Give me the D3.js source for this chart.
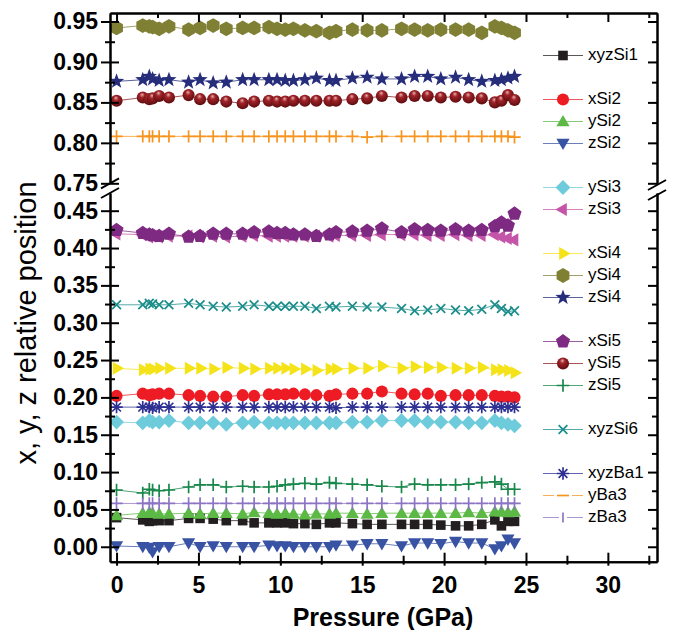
<!DOCTYPE html>
<meta charset="utf-8">
<head>
<script src="https://d3js.org/d3.v7.min.js"></script>
<style>
  body { margin: 0; background: #fff; }
  text { font-family: "Liberation Sans", Arial, sans-serif; }
</style>
</head>
<body>
<div id="chart"></div>
<script>

// pressure points (GPa)
var pressure = [0, 1.6, 2.0, 2.2, 2.6, 3.2, 4.4, 5.1, 5.9, 6.7, 7.7, 8.4, 9.3, 9.8, 10.3, 10.8, 11.5,
                12.2, 13.0, 13.4, 14.4, 15.3, 16.2, 17.4, 18.2, 19.0, 19.8, 20.7, 21.5, 22.3, 23.1, 23.5, 23.9, 24.3];

// relative positions
var ySi4   = [0.942, 0.945, 0.944, 0.943, 0.941, 0.944, 0.940, 0.942, 0.945, 0.941, 0.942, 0.942, 0.943, 0.941, 0.940, 0.941, 0.939,
              0.938, 0.936, 0.938, 0.940, 0.939, 0.939, 0.941, 0.940, 0.939, 0.940, 0.940, 0.940, 0.936, 0.944, 0.942, 0.939, 0.936];
var zSi4   = [0.876, 0.878, 0.882, 0.879, 0.877, 0.878, 0.875, 0.878, 0.874, 0.875, 0.878, 0.878, 0.878, 0.878, 0.877, 0.877, 0.878,
              0.880, 0.877, 0.877, 0.880, 0.881, 0.879, 0.879, 0.882, 0.882, 0.879, 0.881, 0.878, 0.876, 0.877, 0.878, 0.880, 0.882];
var ySi5   = [0.852, 0.856, 0.854, 0.855, 0.858, 0.856, 0.859, 0.854, 0.854, 0.851, 0.849, 0.851, 0.852, 0.851, 0.851, 0.852, 0.852,
              0.852, 0.852, 0.852, 0.854, 0.855, 0.858, 0.856, 0.858, 0.858, 0.856, 0.857, 0.856, 0.855, 0.850, 0.852, 0.859, 0.853];
var yBa3   = [0.808, 0.808, 0.808, 0.808, 0.808, 0.808, 0.808, 0.808, 0.808, 0.808, 0.808, 0.808, 0.808, 0.808, 0.808, 0.808, 0.808,
              0.808, 0.808, 0.808, 0.808, 0.807, 0.808, 0.808, 0.808, 0.808, 0.808, 0.808, 0.808, 0.808, 0.808, 0.808, 0.808, 0.807];
var xSi5   = [0.424, 0.420, 0.418, 0.417, 0.416, 0.419, 0.415, 0.416, 0.419, 0.419, 0.419, 0.421, 0.422, 0.420, 0.420, 0.418, 0.418,
              0.416, 0.418, 0.421, 0.422, 0.423, 0.426, 0.421, 0.425, 0.424, 0.423, 0.425, 0.423, 0.424, 0.429, 0.434, 0.430, 0.446];
var zSi3   = [0.419, 0.418, 0.415, 0.416, 0.415, 0.416, 0.416, 0.415, 0.416, 0.415, 0.416, 0.417, 0.416, 0.416, 0.416, 0.416, 0.416,
              0.416, 0.416, 0.417, 0.417, 0.417, 0.418, 0.418, 0.418, 0.417, 0.417, 0.418, 0.417, 0.417, 0.418, 0.415, 0.413, 0.411];
var xyzSi6 = [0.324, 0.324, 0.326, 0.325, 0.324, 0.324, 0.326, 0.324, 0.322, 0.321, 0.322, 0.324, 0.322, 0.322, 0.322, 0.322, 0.322,
              0.319, 0.322, 0.321, 0.322, 0.321, 0.321, 0.319, 0.316, 0.317, 0.319, 0.317, 0.316, 0.318, 0.324, 0.319, 0.315, 0.316];
var xSi4   = [0.239, 0.237, 0.238, 0.238, 0.239, 0.239, 0.239, 0.239, 0.238, 0.240, 0.239, 0.238, 0.239, 0.239, 0.239, 0.238, 0.238,
              0.236, 0.238, 0.238, 0.239, 0.239, 0.242, 0.239, 0.241, 0.240, 0.240, 0.239, 0.239, 0.240, 0.237, 0.237, 0.236, 0.233];
var xSi2   = [0.202, 0.205, 0.203, 0.204, 0.205, 0.205, 0.203, 0.202, 0.201, 0.201, 0.203, 0.202, 0.204, 0.204, 0.204, 0.205, 0.204,
              0.203, 0.202, 0.204, 0.205, 0.205, 0.208, 0.205, 0.204, 0.205, 0.202, 0.203, 0.203, 0.203, 0.202, 0.201, 0.201, 0.200];
var xyzBa1 = [0.187, 0.187, 0.187, 0.186, 0.187, 0.187, 0.187, 0.187, 0.187, 0.187, 0.187, 0.187, 0.187, 0.187, 0.187, 0.187, 0.187,
              0.187, 0.187, 0.186, 0.187, 0.187, 0.187, 0.187, 0.187, 0.187, 0.187, 0.187, 0.187, 0.187, 0.187, 0.187, 0.187, 0.187];
var ySi3   = [0.167, 0.166, 0.169, 0.167, 0.167, 0.169, 0.166, 0.166, 0.166, 0.164, 0.166, 0.167, 0.166, 0.166, 0.166, 0.166, 0.166,
              0.166, 0.166, 0.166, 0.167, 0.167, 0.169, 0.169, 0.169, 0.167, 0.167, 0.167, 0.166, 0.166, 0.169, 0.166, 0.164, 0.162];
var zSi5   = [0.076, 0.072, 0.077, 0.076, 0.075, 0.076, 0.080, 0.083, 0.083, 0.080, 0.081, 0.080, 0.080, 0.081, 0.083, 0.084, 0.085,
              0.084, 0.086, 0.085, 0.084, 0.083, 0.081, 0.080, 0.084, 0.083, 0.083, 0.083, 0.084, 0.086, 0.087, 0.084, 0.077, 0.077];
var zBa3   = [0.058, 0.058, 0.058, 0.058, 0.058, 0.058, 0.058, 0.058, 0.058, 0.058, 0.058, 0.058, 0.058, 0.058, 0.058, 0.058, 0.058,
              0.058, 0.058, 0.058, 0.058, 0.058, 0.058, 0.058, 0.058, 0.058, 0.058, 0.058, 0.058, 0.058, 0.058, 0.058, 0.058, 0.058];
var ySi2   = [0.042, 0.045, 0.046, 0.045, 0.044, 0.044, 0.045, 0.044, 0.045, 0.045, 0.044, 0.046, 0.045, 0.044, 0.045, 0.044, 0.043,
              0.044, 0.044, 0.045, 0.045, 0.044, 0.045, 0.045, 0.045, 0.045, 0.045, 0.045, 0.046, 0.045, 0.047, 0.047, 0.046, 0.047];
var xyzSi1 = [0.039, 0.036, 0.034, 0.035, 0.035, 0.035, 0.038, 0.038, 0.037, 0.035, 0.035, 0.032, 0.032, 0.032, 0.032, 0.031, 0.031,
              0.030, 0.032, 0.032, 0.031, 0.030, 0.030, 0.030, 0.030, 0.030, 0.029, 0.028, 0.028, 0.030, 0.036, 0.028, 0.034, 0.034];
var zSi2   = [0.001, 0.000, -0.001, -0.007, 0.000, 0.000, 0.005, 0.000, 0.001, 0.000, 0.000, 0.000, 0.002, 0.001, 0.001, 0.000, 0.000,
              0.000, 0.000, 0.002, 0.002, 0.004, 0.004, 0.001, 0.005, 0.005, 0.004, 0.007, 0.005, 0.005, -0.003, 0.001, 0.010, 0.005];

// tick values
var xMajor = [0, 5, 10, 15, 20, 25, 30];
var xMinor = [2.5, 7.5, 12.5, 17.5, 22.5, 27.5, 32.5];
var yUpMajor = [0.75, 0.80, 0.85, 0.90, 0.95];
var yUpMinor = [0.775, 0.825, 0.875, 0.925];
var yLoMajor = [0.00, 0.05, 0.10, 0.15, 0.20, 0.25, 0.30, 0.35, 0.40, 0.45];
var yLoMinor = [0.025, 0.075, 0.125, 0.175, 0.225, 0.275, 0.325, 0.375, 0.425];

var series = [
  {name: "xyzSi1", values: xyzSi1, color: "#231f20", shape: "square",  row: 0},
  {name: "xSi2",   values: xSi2,   color: "#ed1c24", shape: "circle",  row: 2},
  {name: "ySi2",   values: ySi2,   color: "#5cb946", shape: "triUp",   row: 3},
  {name: "zSi2",   values: zSi2,   color: "#3953a4", shape: "triDown", row: 4},
  {name: "ySi3",   values: ySi3,   color: "#6dcbdb", shape: "diamond", row: 6},
  {name: "zSi3",   values: zSi3,   color: "#c455a8", shape: "triLeft", row: 7},
  {name: "xSi4",   values: xSi4,   color: "#f5e31a", shape: "triRight",row: 9},
  {name: "ySi4",   values: ySi4,   color: "#808035", shape: "hexagon", row: 10},
  {name: "zSi4",   values: zSi4,   color: "#262d7b", shape: "star",    row: 11},
  {name: "xSi5",   values: xSi5,   color: "#7e2a82", shape: "pentagon",row: 13},
  {name: "ySi5",   values: ySi5,   color: "#8e1a1e", shape: "ball",    row: 14},
  {name: "zSi5",   values: zSi5,   color: "#17874a", shape: "plus",    row: 15},
  {name: "xyzSi6", values: xyzSi6, color: "#1b8d8b", shape: "cross",   row: 17},
  {name: "xyzBa1", values: xyzBa1, color: "#2e3192", shape: "asterisk",row: 19},
  {name: "yBa3",   values: yBa3,   color: "#f7941d", shape: "plus",    row: 20, legend: "hbar"},
  {name: "zBa3",   values: zBa3,   color: "#8c74c4", shape: "plus",    row: 21, legend: "vbar"}
];

var W = 680, H = 630;
var pL = 110, pR = 657, pT = 13, pB = 561.7;

var svg = d3.select("#chart").append("svg")
    .attr("width", W).attr("height", H);

var defs = svg.append("defs");
var grad = defs.append("radialGradient").attr("id", "ball")
    .attr("cx", "0.45").attr("cy", "0.4").attr("r", "0.6").attr("fx", "0.45").attr("fy", "0.25");
grad.append("stop").attr("offset", "0").attr("stop-color", "#e8b0b0");
grad.append("stop").attr("offset", "0.35").attr("stop-color", "#a02328");
grad.append("stop").attr("offset", "1").attr("stop-color", "#5e0d10");

// scales: a broken y axis with two segments
var x = d3.scaleLinear().domain([-0.4, 33]).range([pL, pR]);
var yUp = d3.scaleLinear().domain([0.75, 0.9605]).range([183.3, pT]);
var yLo = d3.scaleLinear().domain([-0.02, 0.4737]).range([pB, 193]);
function yPos(v) { return v > 0.6 ? yUp(v) : yLo(v); }

// marker shapes
function poly(n, r, rot) {
  var p = [];
  for (var i = 0; i < n; i++) {
    var a = rot + i * 2 * Math.PI / n;
    p.push([r * Math.sin(a), -r * Math.cos(a)]);
  }
  return "M" + p.map(function(d) { return d[0].toFixed(2) + "," + d[1].toFixed(2); }).join("L") + "Z";
}
function starPath(ro, ri) {
  var p = [];
  for (var i = 0; i < 10; i++) {
    var r = i % 2 ? ri : ro, a = i * Math.PI / 5;
    p.push([r * Math.sin(a), -r * Math.cos(a)]);
  }
  return "M" + p.map(function(d) { return d[0].toFixed(2) + "," + d[1].toFixed(2); }).join("L") + "Z";
}
function strokes(n, r, rot) {
  var s = "";
  for (var i = 0; i < n; i++) {
    var a = rot + i * Math.PI / n;
    var dx = r * Math.sin(a), dy = -r * Math.cos(a);
    s += "M" + dx.toFixed(2) + "," + dy.toFixed(2) + "L" + (-dx).toFixed(2) + "," + (-dy).toFixed(2);
  }
  return s;
}
var shapes = {
  square:   {d: "M-4.8,-4.8H4.8V4.8H-4.8Z", fill: true},
  circle:   {d: d3.symbol(d3.symbolCircle, 115)(), fill: true},
  ball:     {d: d3.symbol(d3.symbolCircle, 115)(), fill: true},
  triUp:    {d: poly(3, 7.6, 0), fill: true, dy: 1},
  triDown:  {d: poly(3, 7.6, Math.PI), fill: true, dy: -1},
  triLeft:  {d: poly(3, 7.6, -Math.PI / 2), fill: true},
  triRight: {d: poly(3, 7.6, Math.PI / 2), fill: true},
  diamond:  {d: poly(4, 7.4, 0), fill: true},
  hexagon:  {d: poly(6, 7.4, 0), fill: true},
  pentagon: {d: poly(5, 7.4, 0), fill: true},
  star:     {d: starPath(8, 3.3), fill: true},
  plus:     {d: strokes(2, 6.2, 0), fill: false},
  cross:    {d: strokes(2, 6.2, Math.PI / 4), fill: false},
  asterisk: {d: strokes(4, 6.2, 0), fill: false},
  hbar:     {d: "M-6,0H6", fill: false},
  vbar:     {d: "M0,-5V5", fill: false}
};

function drawMarker(g, s, key, px, py) {
  var sh = shapes[key];
  var m = g.append("path")
      .attr("d", sh.d)
      .attr("transform", "translate(" + px + "," + (py + (sh.dy || 0)) + ")");
  if (sh.fill) {
    m.attr("fill", key === "ball" ? "url(#ball)" : s.color).attr("stroke", "none");
  } else {
    m.attr("fill", "none").attr("stroke", s.color).attr("stroke-width", 1.7);
  }
}

// connecting lines
var line = d3.line()
    .x(function(d, i) { return x(pressure[i]); })
    .y(function(d) { return yPos(d); });

var plot = svg.append("g");
series.forEach(function(s) {
  plot.append("path")
      .datum(s.values)
      .attr("fill", "none")
      .attr("stroke", s.color)
      .attr("stroke-opacity", 0.75)
      .attr("stroke-width", 1)
      .attr("d", line);
});
series.forEach(function(s) {
  var g = plot.append("g");
  s.values.forEach(function(v, i) {
    drawMarker(g, s, s.shape, x(pressure[i]), yPos(v));
  });
});

// axes
function styleAxis(g) {
  g.selectAll(".domain").attr("stroke", "#000").attr("stroke-width", 2);
  g.selectAll(".tick line").attr("stroke", "#000").attr("stroke-width", 2);
  g.selectAll(".tick text").attr("fill", "#000").style("font-size", "23px").style("font-weight", "bold")
      .style("font-family", '"Liberation Sans", Arial, sans-serif');
}

[[yUp, yUpMajor, yUpMinor], [yLo, yLoMajor, yLoMinor]].forEach(function(a) {
  var gl = svg.append("g").attr("transform", "translate(" + pL + ",0)")
      .call(d3.axisLeft(a[0]).tickValues(a[1]).tickSize(9).tickSizeOuter(0).tickPadding(3)
            .tickFormat(d3.format(".2f")));
  gl.selectAll(".tick line").attr("x1", 9);
  styleAxis(gl);
  var gm = svg.append("g").attr("transform", "translate(" + pL + ",0)")
      .call(d3.axisLeft(a[0]).tickValues(a[2]).tickSize(5).tickSizeOuter(0).tickFormat(""));
  gm.selectAll(".tick line").attr("x1", 5);
  styleAxis(gm);

  var gr = svg.append("g").attr("transform", "translate(" + pR + ",0)")
      .call(d3.axisRight(a[0]).tickValues(a[1]).tickSize(-9).tickSizeOuter(0).tickFormat(""));
  styleAxis(gr);
  var grm = svg.append("g").attr("transform", "translate(" + pR + ",0)")
      .call(d3.axisRight(a[0]).tickValues(a[2]).tickSize(-5).tickSizeOuter(0).tickFormat(""));
  styleAxis(grm);
});

var gb = svg.append("g").attr("transform", "translate(0," + pB + ")")
    .call(d3.axisBottom(x).tickValues(xMajor).tickSize(4).tickSizeOuter(0).tickFormat(d3.format("d")));
gb.selectAll(".tick line").attr("y1", -9);
styleAxis(gb);
gb.selectAll(".tick text").attr("y", 15);
var gbm = svg.append("g").attr("transform", "translate(0," + pB + ")")
    .call(d3.axisBottom(x).tickValues(xMinor).tickSize(3).tickSizeOuter(0).tickFormat(""));
gbm.selectAll(".tick line").attr("y1", -6);
styleAxis(gbm);

var gt = svg.append("g").attr("transform", "translate(0," + pT + ")")
    .call(d3.axisTop(x).tickValues(xMajor).tickSize(-9).tickSizeOuter(0).tickFormat(""));
styleAxis(gt);
var gtm = svg.append("g").attr("transform", "translate(0," + pT + ")")
    .call(d3.axisTop(x).tickValues(xMinor).tickSize(-5).tickSizeOuter(0).tickFormat(""));
styleAxis(gtm);

// axis break marks
[[pL, 183.3], [pL, 193], [pR, 185], [pR, 195]].forEach(function(c) {
  svg.append("line")
      .attr("x1", c[0] - 9).attr("y1", c[1] + 5)
      .attr("x2", c[0] + 9).attr("y2", c[1] - 5)
      .attr("stroke", "#000").attr("stroke-width", 2);
});

// axis titles
svg.append("text")
    .attr("x", 383).attr("y", 626)
    .attr("text-anchor", "middle")
    .style("font-size", "25px").style("font-weight", "bold")
    .text("Pressure (GPa)");
svg.append("text")
    .attr("transform", "translate(36,323) rotate(-90)")
    .attr("text-anchor", "middle")
    .style("font-size", "29px")
    .text("x, y, z relative position");

// legend
var legend = svg.append("g");
series.forEach(function(s) {
  var ly = 55.5 + s.row * 22;
  var ln = legend.append("line")
      .attr("x1", 543).attr("x2", 583).attr("y1", ly).attr("y2", ly)
      .attr("stroke", s.color).attr("stroke-opacity", 0.75).attr("stroke-width", 1.2);
  if (s.legend === "hbar") ln.attr("stroke-dasharray", "11,3.5");
  if (s.legend === "vbar") ln.attr("stroke-dasharray", "16,8");
  drawMarker(legend, s, s.legend || s.shape, 563, ly);
  legend.append("text")
      .attr("x", 588).attr("y", ly)
      .attr("dominant-baseline", "middle")
      .style("font-size", "17px")
      .text(s.name);
});

</script>
</body>
</html>
